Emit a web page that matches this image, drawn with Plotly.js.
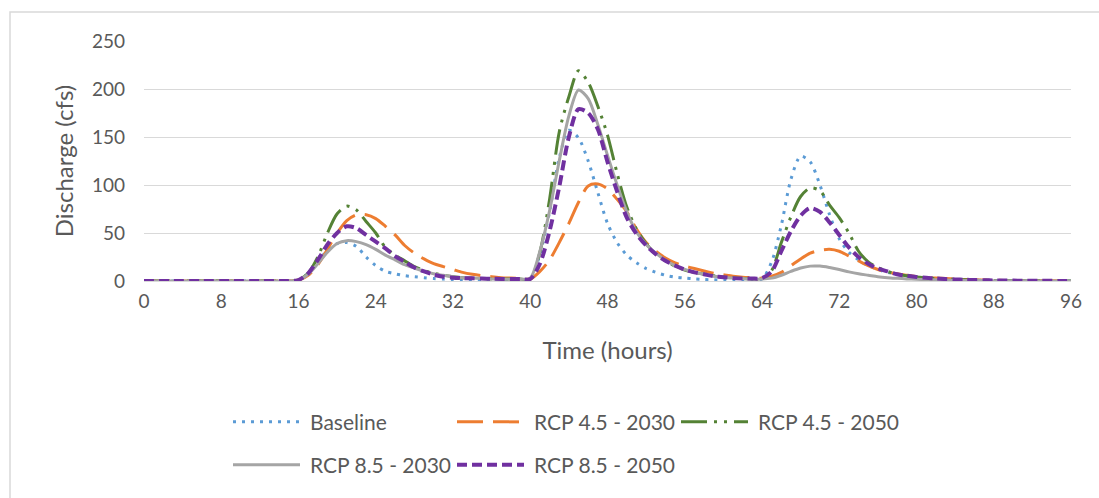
<!DOCTYPE html>
<html>
<head>
<meta charset="utf-8">
<script src="https://cdn.plot.ly/plotly-3.0.1.min.js"></script>
<style>
  html, body { margin: 0; padding: 0; background: #ffffff; }
  #chart { width: 1099px; height: 498px; }
</style>
</head>
<body>
<div id="chart"></div>
<script>
// Time (hours)
var hours = [0,1,2,3,4,5,6,7,8,9,10,11,12,13,14,15,16,17,18,19,20,21,22,23,24,25,26,27,28,29,30,31,32,33,34,35,36,37,38,39,40,41,42,43,44,45,46,47,48,49,50,51,52,53,54,55,56,57,58,59,60,61,62,63,64,65,66,67,68,69,70,71,72,73,74,75,76,77,78,79,80,81,82,83,84,85,86,87,88,89,90,91,92,93,94,95,96];

// Discharge (cfs)
var baseline = [0,0,0,0,0,0,0,0,0,0,0,0,0,0,0,0,
  1,8,20,32,39,40,36,25,16,10,7.5,5.5,4.5,3.5,2.5,2,1.5,1.2,1,1,1,1,1,1,
  2,28,72,128,157,149,125,92,60,40,27,19,13,9,6,4,3,2.2,1.5,1.2,1,1,1,1,
  2,20,58,106,130,124,100,69,44,30,22,16,12,9,7,5,4,3,2.5,2,1.5,1.2,1,0.8,0.6,0.5,0.4,0.3,0.3,0.2,0.2,0.1,0.1];

var rcp45_2030 = [0,0,0,0,0,0,0,0,0,0,0,0,0,0,0,0,
  1,6,17,33,50,63,69,69,65,57,48,37,29,23,18,15,12,9,7,5.5,4.5,3.5,3,2.5,
  2,10,22,40,60,82,99,101,96,85,72,54,40,31,24,19,15.5,13,10.5,8,6.5,5,4,3.5,
  3,5,9,16,23,29,32,33,31,26,21,16,12,9.5,7.5,6,4.5,3.5,3,2.5,2,1.6,1.3,1,0.8,0.6,0.5,0.4,0.3,0.25,0.2,0.15,0.1];

var rcp45_2050 = [0,0,0,0,0,0,0,0,0,0,0,0,0,0,0,0,
  1,8,25,50,70,78,74,62,50,35,27,21,15,11,8,6,4.5,3.5,3,2.5,2.2,2,2,2,
  2,30,85,155,192,219,207,182,152,112,77,54,39,28,21,15.5,11.5,9,7,5.5,4.2,3.3,2.6,2.2,
  2,11,40,67,88,97,94,79,66,50,31,20,14,10,7,5.5,4.2,3.3,2.6,2,1.6,1.3,1,0.8,0.6,0.5,0.4,0.3,0.25,0.2,0.15,0.1,0.1];

var rcp85_2030 = [0,0,0,0,0,0,0,0,0,0,0,0,0,0,0,0,
  1,7,18,30,39,42,41,38,33,27,22,17,13.5,10,7.5,6,4.5,3.5,3,2.5,2,1.8,1.8,1.8,
  3,31,73,125,172,199,190,163,131,100,72,51,38,29,21.5,16,12,9,7,5,4,3,2.5,2,
  2,3,6,10,13.5,15.5,15.5,14,12,9.5,7.5,6,4.5,3.5,2.8,2.2,1.8,1.5,1.2,1,0.8,0.6,0.5,0.4,0.3,0.3,0.2,0.2,0.15,0.1,0.1,0.1,0.1];

var rcp85_2050 = [0,0,0,0,0,0,0,0,0,0,0,0,0,0,0,0,
  1,8,22,38,50,57,55,48,41,34,26,20,14,10,6.5,4.5,3.5,3,2.8,2.5,2.3,2.2,2,2,
  2,18,52,98,150,179,175,158,124,93,66,49,37,28,21,16,12,9,7,5,4,3,2.6,2.5,
  3,10,31,52,68,76,72,61,48,35,25,18,13,10,7,5.5,4.2,3.3,2.6,2,1.6,1.3,1,0.8,0.6,0.5,0.4,0.3,0.25,0.2,0.15,0.1,0.1];

var seriesNames = ['Baseline','RCP 4.5 - 2030','RCP 4.5 - 2050','RCP 8.5 - 2030','RCP 8.5 - 2050'];
var seriesValues = [baseline, rcp45_2030, rcp45_2050, rcp85_2030, rcp85_2050];
var xTickVals = [0,8,16,24,32,40,48,56,64,72,80,88,96];
var yTickVals = [0,50,100,150,200,250];

var styles = [
  {color:'#5B9BD5', width:3, dash:'3px,6px', legend:'legend'},
  {color:'#ED7D31', width:3, dash:'26px,10px', legend:'legend'},
  {color:'#548235', width:3, dash:'26px,7px,3px,7px,3px,7px', legend:'legend'},
  {color:'#A5A5A5', width:3, dash:'solid', legend:'legend2'},
  {color:'#7030A0', width:4, dash:'10px,5px', legend:'legend2'}
];

var traces = seriesValues.map(function(vals, i){
  return {
    x: hours, y: vals, name: seriesNames[i], type:'scatter', mode:'lines',
    line: {color: styles[i].color, width: styles[i].width, dash: styles[i].dash, shape:'spline', smoothing:0.8},
    legend: styles[i].legend, hoverinfo:'x+y+name'
  };
});

var F = 'Lato, "Open Sans", sans-serif';
var txt = '#595959';
var legendCommon = {
  orientation:'h', xanchor:'left', yanchor:'middle',
  entrywidth:137, entrywidthmode:'pixels', itemwidth:72,
  font:{family:F, size:21, color:txt}, bgcolor:'rgba(0,0,0,0)', borderwidth:0,
  itemclick:false, itemdoubleclick:false
};

var layout = {
  width:1099, height:498,
  margin:{l:144, r:28, t:41, b:216.5, pad:0},
  paper_bgcolor:'#ffffff', plot_bgcolor:'#ffffff',
  font:{family:F, color:txt},
  showlegend:true,
  xaxis:{
    range:[0,96], tickvals:xTickVals, ticktext:xTickVals.map(String),
    showgrid:false, zeroline:false, showline:true, linecolor:'#d9d9d9', linewidth:1.3,
    ticks:'', tickfont:{family:F, size:19, color:txt}, ticklabelstandoff:3,
    title:{text:'Time (hours)', font:{family:F, size:24, color:txt}, standoff:31},
    fixedrange:true
  },
  yaxis:{
    range:[0,250], tickvals:yTickVals, ticktext:yTickVals.map(String),
    showgrid:true, gridcolor:'#d9d9d9', gridwidth:1.3, zeroline:false, showline:false,
    ticks:'', tickfont:{family:F, size:19, color:txt}, ticklabelstandoff:18,
    title:{text:'Discharge (cfs)', font:{family:F, size:24, color:txt}, standoff:11},
    fixedrange:true
  },
  legend: Object.assign({}, legendCommon, {x:(228-144)/927, y:(281.5-423)/240.5}),
  legend2: Object.assign({}, legendCommon, {x:(228-144)/927, y:(281.5-466)/240.5}),
  shapes:[{
    type:'rect', xref:'paper', yref:'paper', layer:'below',
    x0:(10-144)/927, x1:1.2, y0:-1.5, y1:(281.5-12)/240.5,
    line:{color:'#d9d9d9', width:1.5}, fillcolor:'rgba(0,0,0,0)'
  }]
};

Plotly.newPlot('chart', traces, layout, {displayModeBar:false, responsive:false}).then(function(gd){
  // lengthen legend line symbols and let entry text run past the entry box, as in the reference
  gd.querySelectorAll('.legendlines path').forEach(function(p){ p.setAttribute('d','M5,0h67'); });
  gd.querySelectorAll('.scrollbox').forEach(function(s){ s.removeAttribute('clip-path'); });
});
</script>
</body>
</html>
